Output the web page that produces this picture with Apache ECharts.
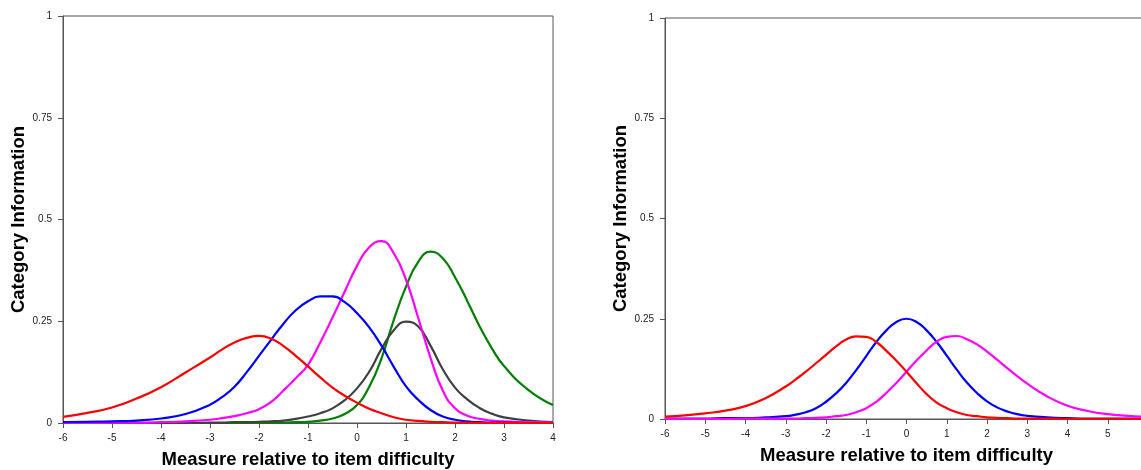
<!DOCTYPE html>
<html lang="en">
<head>
    <meta charset="UTF-8">
    <title>Category Information</title>
    <script src="https://cdn.jsdelivr.net/npm/echarts/dist/echarts.min.js"></script>
    <style>
        html, body { margin: 0; padding: 0; background: #fff; }
    </style>
</head>
<body>
    <div id="chart" style="width: 1141px; height: 470px;"></div>

    <script>
        // left panel: five categories
        const leftX = [-6, -5.5, -5, -4.5, -4, -3.5, -3, -2.75, -2.5, -2.25, -2, -1.75, -1.5, -1.25, -1, -0.75,
            -0.5, -0.25, 0, 0.25, 0.5, 0.75, 1, 1.25, 1.5, 1.75, 2, 2.25, 2.5, 2.75, 3, 3.5, 4];
        const leftRed = [0.015, 0.025, 0.038, 0.060, 0.088, 0.124, 0.161, 0.181, 0.198, 0.209, 0.214, 0.207, 0.189, 0.165, 0.139, 0.112,
            0.087, 0.067, 0.050, 0.035, 0.024, 0.014, 0.008, 0.005, 0.003, 0.002, 0.001, 0.001, 0, 0, 0, 0, 0];
        const leftBlue = [0.002, 0.003, 0.004, 0.006, 0.011, 0.022, 0.045, 0.064, 0.089, 0.125, 0.165, 0.205, 0.244, 0.277, 0.299, 0.311,
            0.311, 0.297, 0.270, 0.235, 0.190, 0.138, 0.090, 0.057, 0.032, 0.016, 0.008, 0.004, 0.002, 0.001, 0.001, 0, 0];
        const leftMagenta = [0, 0, 0.001, 0.001, 0.002, 0.004, 0.008, 0.012, 0.017, 0.024, 0.034, 0.052, 0.080, 0.110, 0.143, 0.198,
            0.259, 0.323, 0.386, 0.432, 0.447, 0.417, 0.352, 0.258, 0.160, 0.080, 0.036, 0.018, 0.010, 0.006, 0.004, 0.002, 0.001];
        const leftGray = [0, 0, 0, 0, 0, 0, 0.001, 0.001, 0.002, 0.002, 0.003, 0.004, 0.006, 0.010, 0.016, 0.024,
            0.036, 0.056, 0.085, 0.126, 0.182, 0.228, 0.249, 0.237, 0.190, 0.132, 0.087, 0.058, 0.037, 0.023, 0.014, 0.006, 0.002];
        const leftGreen = [0, 0, 0, 0, 0, 0, 0, 0, 0, 0, 0, 0.001, 0.001, 0.002, 0.003, 0.006,
            0.011, 0.022, 0.044, 0.089, 0.159, 0.253, 0.335, 0.396, 0.421, 0.405, 0.358, 0.300, 0.238, 0.184, 0.140, 0.081, 0.044];

        // right panel: three categories
        const rightX = [-6, -5.5, -5, -4.5, -4, -3.5, -3, -2.75, -2.5, -2.25, -2, -1.75, -1.5, -1.25, -1, -0.75, -0.5, -0.25,
            0, 0.25, 0.5, 0.75, 1, 1.25, 1.5, 1.75, 2, 2.25, 2.5, 2.75, 3, 3.5, 4, 4.5, 5, 5.5, 6];
        const rightRed = [0.006, 0.009, 0.014, 0.021, 0.032, 0.052, 0.081, 0.099, 0.118, 0.139, 0.160, 0.181, 0.198, 0.206, 0.205, 0.192, 0.170, 0.145,
            0.118, 0.089, 0.062, 0.041, 0.027, 0.017, 0.010, 0.007, 0.004, 0.003, 0.002, 0.001, 0.001, 0.001, 0, 0, 0, 0, 0];
        const rightBlue = [0.001, 0.001, 0.001, 0.002, 0.002, 0.004, 0.007, 0.011, 0.017, 0.027, 0.043, 0.064, 0.090, 0.122, 0.157, 0.192, 0.221, 0.242,
            0.250, 0.242, 0.221, 0.192, 0.158, 0.123, 0.091, 0.065, 0.044, 0.029, 0.019, 0.012, 0.008, 0.004, 0.002, 0.001, 0.001, 0.001, 0.001];
        const rightMagenta = [0, 0, 0, 0, 0.001, 0.001, 0.001, 0.001, 0.002, 0.003, 0.004, 0.007, 0.010, 0.017, 0.027, 0.043, 0.065, 0.090,
            0.118, 0.146, 0.171, 0.193, 0.205, 0.207, 0.199, 0.186, 0.168, 0.148, 0.127, 0.107, 0.088, 0.056, 0.033, 0.020, 0.012, 0.008, 0.005];

        const yTicks = [0, 0.25, 0.5, 0.75, 1];

        const font = 'Liberation Sans, Arial, sans-serif';
        const axisColor = '#555';

        function pairs(xs, ys) {
            return xs.map((x, i) => [x, ys[i]]);
        }

        function line(name, color, xs, ys, idx) {
            return {
                name: name,
                type: 'line',
                xAxisIndex: idx,
                yAxisIndex: idx,
                smooth: true,
                showSymbol: false,
                lineStyle: { color: color, width: 2.2 },
                data: pairs(xs, ys)
            };
        }

        function xAxis(idx, max) {
            return {
                type: 'value',
                gridIndex: idx,
                min: -6,
                max: max,
                interval: 1,
                name: 'Measure relative to item difficulty',
                nameLocation: 'middle',
                nameGap: 27,
                nameTextStyle: { fontFamily: font, fontSize: 18.5, fontWeight: 'bold', color: '#000' },
                axisLine: { onZero: false, lineStyle: { color: axisColor, width: 1 } },
                axisTick: { show: true, length: 5, lineStyle: { color: axisColor } },
                axisLabel: { fontFamily: font, fontSize: 10, color: '#222', margin: 10 },
                splitLine: { show: false }
            };
        }

        function yAxis(idx) {
            return {
                type: 'value',
                gridIndex: idx,
                min: yTicks[0],
                max: yTicks[yTicks.length - 1],
                interval: 0.25,
                name: 'Category Information',
                nameLocation: 'middle',
                nameGap: 34,
                nameTextStyle: { fontFamily: font, fontSize: 18.5, fontWeight: 'bold', color: '#000' },
                axisLine: { show: true, onZero: false, lineStyle: { color: axisColor, width: 1 } },
                axisTick: { show: true, length: 5, lineStyle: { color: axisColor } },
                axisLabel: { fontFamily: font, fontSize: 10, color: '#222', margin: 11 },
                splitLine: { show: false }
            };
        }

        const chart = echarts.init(document.getElementById('chart'));

        const option = {
            animation: false,
            backgroundColor: '#fff',
            grid: [
                { left: 63, top: 16, width: 490, height: 407, outerBoundsMode: 'none', containLabel: false,
                  show: true, borderColor: axisColor, borderWidth: 1, backgroundColor: '#fff' },
                { left: 665, top: 18, width: 483, height: 401, outerBoundsMode: 'none', containLabel: false,
                  show: true, borderColor: axisColor, borderWidth: 1, backgroundColor: '#fff' }
            ],
            xAxis: [xAxis(0, 4), xAxis(1, 6)],
            yAxis: [yAxis(0), yAxis(1)],
            series: [
                line('Category 5', '#008000', leftX, leftGreen, 0),
                line('Category 4', '#404040', leftX, leftGray, 0),
                line('Category 3', '#ff00ff', leftX, leftMagenta, 0),
                line('Category 2', '#0000ff', leftX, leftBlue, 0),
                line('Category 1', '#ff0000', leftX, leftRed, 0),
                line('Category 2', '#0000ff', rightX, rightBlue, 1),
                line('Category 3', '#ff00ff', rightX, rightMagenta, 1),
                line('Category 1', '#ff0000', rightX, rightRed, 1)
            ]
        };

        chart.setOption(option);
    </script>
</body>
</html>
